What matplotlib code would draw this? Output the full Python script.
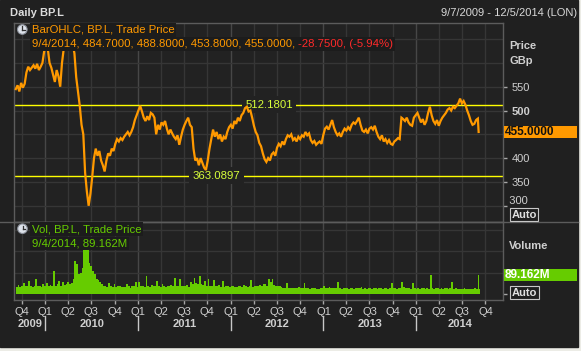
import numpy as np
import pandas as pd
import matplotlib
matplotlib.use('Agg')
import matplotlib.pyplot as plt
import matplotlib.dates as mdates
import matplotlib.transforms as mtransforms
from matplotlib.patches import Rectangle, Circle
from matplotlib.lines import Line2D

plt.rcParams['font.family'] = ['Liberation Sans', 'DejaVu Sans']

# weekly closes (GBp), first week starting 7 Sep 2009
close = [545, 553, 540, 558, 548, 556, 580, 592, 585, 590,
         595, 588, 598, 585, 592, 600, 625, 640, 630, 600,
         590, 575, 560, 585, 572, 550, 600, 630, 645, 650,
         655, 648, 640, 620, 570, 540, 510, 470, 450, 370,
         330, 300, 325, 360, 400, 420, 405, 415, 395, 385,
         372, 395, 410, 405, 420, 415, 430, 440, 435, 442,
         438, 445, 450, 455, 448, 455, 465, 480, 490, 500,
         510, 498, 485, 478, 488, 480, 495, 492, 485, 450,
         470, 460, 475, 470, 478, 462, 450, 460, 452, 445,
         440, 448, 428, 445, 460, 470, 478, 485, 470, 465,
         420, 395, 400, 385, 400, 390, 380, 375, 395, 420,
         440, 460, 445, 455, 440, 450, 435, 445, 440, 455,
         465, 470, 462, 478, 472, 485, 478, 490, 495, 505,
         508, 498, 500, 485, 468, 455, 448, 432, 425, 410,
         398, 392, 400, 395, 408, 412, 405, 422, 430, 425,
         435, 428, 440, 448, 445, 450, 438, 442, 435, 445,
         440, 448, 445, 455, 448, 452, 438, 432, 436, 428,
         432, 435, 430, 448, 462, 466, 460, 470, 480, 465,
         455, 448, 452, 445, 455, 462, 458, 465, 460, 470,
         475, 472, 478, 485, 470, 458, 455, 460, 452, 462,
         465, 460, 468, 455, 445, 440, 448, 435, 440, 432,
         438, 430, 428, 435, 438, 442, 440, 485, 482, 478,
         485, 475, 470, 468, 485, 490, 495, 485, 475, 482,
         470, 478, 495, 508, 490, 478, 472, 480, 468, 478,
         485, 490, 495, 502, 505, 500, 508, 505, 510, 515,
         525, 515, 520, 512, 500, 490, 478, 470, 472, 480, 483]

# weekly volume (millions)
volume = [35, 42, 33, 38, 50, 36, 40, 62, 38, 35,
          40, 70, 36, 38, 34, 45, 38, 52, 40, 42,
          40, 110, 38, 45, 60, 40, 55, 42, 48, 58,
          45, 50, 70, 155, 140, 95, 100, 120, 230, 250,
          220, 145, 130, 110, 95, 70, 65, 55, 45, 40,
          38, 35, 50, 36, 34, 48, 33, 36, 40, 32,
          35, 34, 45, 38, 30, 36, 40, 55, 34, 55,
          36, 40, 35, 85, 38, 34, 42, 36, 40, 62,
          38, 35, 45, 36, 34, 40, 38, 42, 36, 75,
          38, 40, 72, 36, 40, 38, 42, 34, 55, 45,
          75, 50, 45, 85, 48, 42, 60, 40, 70, 38,
          40, 65, 36, 38, 42, 35, 60, 34, 36, 40,
          33, 36, 40, 35, 32, 38, 36, 34, 42, 36,
          34, 38, 65, 35, 40, 36, 38, 42, 36, 45,
          48, 40, 72, 55, 70, 42, 38, 36, 40, 34,
          30, 28, 52, 30, 27, 26, 30, 29, 27, 32,
          26, 29, 50, 30, 27, 25, 28, 26, 29, 25,
          24, 27, 26, 40, 30, 28, 32, 27, 29, 26,
          28, 58, 27, 24, 29, 26, 28, 25, 30, 27,
          24, 29, 26, 28, 32, 25, 27, 24, 29, 26,
          24, 26, 28, 25, 30, 27, 24, 29, 26, 25,
          27, 52, 26, 28, 24, 29, 27, 56, 34, 28,
          26, 29, 24, 54, 27, 25, 28, 24, 26, 29,
          24, 27, 25, 90, 28, 24, 26, 29, 25, 27,
          24, 26, 28, 25, 27, 56, 24, 26, 23, 25,
          24, 22, 26, 24, 23, 25, 22, 24, 26, 23, 25]

last_day = '2014-09-04'
last_close = 455.0
last_vol = 89.162
hi_line = 512.1801
lo_line = 363.0897
price_ticks = [350, 400, 500, 550]
price_grid = [300, 350, 400, 450, 500, 550, 600, 650]
vol_grid = [100, 200, 300]
years = [2009, 2010, 2011, 2012, 2013, 2014]

weeks = pd.date_range('2009-09-07', periods=len(close), freq='7D')
t_week = mdates.date2num(weeks.to_pydatetime())
t_last = mdates.date2num(pd.Timestamp(last_day).to_pydatetime())
t_all = np.append(t_week, t_last)
price = close + [last_close]

quarters = pd.date_range('2009-10-01', '2014-10-01', freq='QS')
q_labels = ['Q%d' % ((d.month - 1) // 3 + 1) for d in quarters]
t_q = mdates.date2num(quarters.to_pydatetime())

x0 = mdates.date2num(pd.Timestamp('2009-08-31').to_pydatetime())
x1 = mdates.date2num(pd.Timestamp('2014-12-09').to_pydatetime())

BG = '#222222'
GRID = '#363636'
GRID_Y = '#474747'
FRAME = '#5c5c5c'
TXT = '#cfcfcf'
ORANGE = '#ff9900'
GREEN = '#66cc00'

W, H = 581, 351
fig = plt.figure(figsize=(W / 100, H / 100), dpi=100, facecolor='#ecece6')
fig.patches.append(Rectangle((0, 4 / H), 578 / W, 347 / H, transform=fig.transFigure,
                             color='#202020', zorder=-5))

axp = fig.add_axes([14 / W, 1 - 222 / H, 489 / W, 199 / H], facecolor=BG)
axv = fig.add_axes([14 / W, 1 - 300 / H, 489 / W, 78 / H], facecolor=BG, sharex=axp)

for ax in (axp, axv):
    for s in ax.spines.values():
        s.set_color(FRAME)
        s.set_linewidth(1)
    for t in t_q:
        d = mdates.num2date(t)
        ax.axvline(t, color=GRID_Y if d.month == 1 else GRID, lw=1, zorder=0)

# price panel
axp.set_xlim(x0, x1)
axp.set_ylim(265.9, 683.8)
for g in price_grid:
    axp.axhline(g, color=GRID, lw=1, zorder=0)
axp.plot(t_all, price, color=ORANGE, lw=1.6, solid_joinstyle='miter', zorder=3)
axp.axhline(hi_line, color='#ffff00', lw=1, zorder=2)
axp.axhline(lo_line, color='#ffff00', lw=1, zorder=2)
bt = mtransforms.blended_transform_factory(axp.transAxes, axp.transData)
for val, xf in [(hi_line, 0.5215), (lo_line, 0.4145)]:
    axp.text(xf, val, '%.4f' % val, transform=bt, ha='center', va='center',
             color='#d8ff3a', fontsize=8.2, zorder=2.5,
             bbox=dict(boxstyle='square,pad=0.3', fc=BG, ec='none'))
axp.yaxis.tick_right()
axp.set_yticks([300] + price_ticks)
axp.set_yticklabels([''] + [str(v) for v in price_ticks])
for lab in axp.get_yticklabels():
    if lab.get_text() == '500':
        lab.set_fontweight('bold')
axp.tick_params(axis='y', length=3, width=1, color='#a8a8a8', labelcolor=TXT,
                labelsize=8, pad=3)
axp.tick_params(axis='x', length=0, labelbottom=False)
axp.text(1.0, 300, '  300', transform=bt, ha='left', va='bottom', color=TXT,
         fontsize=8)

# volume panel
axv.set_ylim(-28, 338)
for g in vol_grid:
    axv.axhline(g, color=GRID, lw=1, zorder=0)
axv.bar(t_week, volume, width=7, align='edge', color=GREEN, lw=0, zorder=3)
axv.bar([t_last], [last_vol], width=1.6, color=GREEN, lw=0, zorder=3)
axv.yaxis.tick_right()
axv.set_yticks([0])
axv.set_yticklabels([''])
axv.tick_params(axis='y', length=3, width=1, color='#a8a8a8')
axv.set_xticks(t_q)
axv.set_xticklabels(q_labels)
axv.tick_params(axis='x', length=3, width=1, color='#a8a8a8', labelcolor=TXT,
                labelsize=8, pad=2)

# year labels and separators
yb = mtransforms.blended_transform_factory(axv.transData, fig.transFigure)
for y in years:
    a = max(x0, mdates.date2num(pd.Timestamp('%d-01-01' % y).to_pydatetime()))
    b = min(x1, mdates.date2num(pd.Timestamp('%d-01-01' % (y + 1)).to_pydatetime()))
    fig.text((a + b) / 2, 1 - 324 / H, str(y), transform=yb, ha='center', va='center',
             color=TXT, fontsize=8, fontweight='bold')
    if y > 2009:
        fig.add_artist(Line2D([a, a], [1 - 316 / H, 1 - 330 / H], transform=yb,
                              color='#c8c8c8', lw=1))

# overlay in pixel coordinates
ov = fig.add_axes([0, 0, 1, 1], zorder=10)
ov.set_xlim(0, W)
ov.set_ylim(H, 0)
ov.axis('off')

ov.add_line(Line2D([0, 578], [222, 222], color=FRAME, lw=1))
ov.text(10, 12.5, 'Daily BP.L', color='#dcdcdc', fontsize=8, fontweight='bold',
        ha='left', va='center')
ov.text(577, 12.5, '9/7/2009 - 12/5/2014 (LON)', color='#d8d8d8', fontsize=8,
        ha='right', va='center')

def clock(cx, cy):
    ov.add_patch(Circle((cx, cy), 4.8, fc='#dde2ea', ec='#8a8f99', lw=0.8))
    ov.add_line(Line2D([cx, cx], [cy, cy - 3.2], color='#303030', lw=0.9))
    ov.add_line(Line2D([cx, cx + 2.6], [cy, cy], color='#303030', lw=0.9))

leg_box = dict(boxstyle='square,pad=0.15', fc='#1c1c1c', ec='none')
clock(22.3, 29.5)
ov.text(31.7, 30, 'BarOHLC, BP.L, Trade Price', color=ORANGE, fontsize=8.2,
        ha='left', va='center', bbox=leg_box)
t2 = ov.text(31.7, 44, '9/4/2014, 484.7000, 488.8000, 453.8000, 455.0000, ',
             color=ORANGE, fontsize=8.2, ha='left', va='center', bbox=leg_box)
ov.annotate('-28.7500, (-5.94%)', xy=(1, 0.5), xycoords=t2, ha='left', va='center',
            color='#ff2a2a', fontsize=8.2, bbox=leg_box)

clock(22.5, 228.7)
ov.text(31.7, 229, 'Vol, BP.L, Trade Price', color=GREEN, fontsize=8.2,
        ha='left', va='center', bbox=leg_box)
ov.text(31.7, 243.3, '9/4/2014, 89.162M', color=GREEN, fontsize=8.2,
        ha='left', va='center', bbox=leg_box)

ov.text(509, 46, 'Price', color=TXT, fontsize=8, fontweight='bold', va='center')
ov.text(509, 61, 'GBp', color=TXT, fontsize=8, fontweight='bold', va='center')
ov.text(509, 245.7, 'Volume', color=TXT, fontsize=8, fontweight='bold', va='center')

auto_box = dict(boxstyle='square,pad=0.12', fc='none', ec='#c8c8c8', lw=0.8)
ov.text(524.3, 214.5, 'Auto', color='#e0e0e0', fontsize=8, fontweight='bold',
        ha='center', va='center', bbox=auto_box)
ov.text(524.5, 292.5, 'Auto', color='#e0e0e0', fontsize=8, fontweight='bold',
        ha='center', va='center', bbox=auto_box)

# last value badges, placed at the data values
pb = mtransforms.blended_transform_factory(ov.transData, axp.transData)
ov.add_patch(Rectangle((503.5, last_close - 12.9), 73.5, 25.8, transform=pb,
                       fc=ORANGE, ec='none'))
ov.text(505, last_close, '%.4f' % last_close, transform=pb, color='#111111',
        fontsize=8.5, fontweight='bold', ha='left', va='center')
vb = mtransforms.blended_transform_factory(ov.transData, axv.transData)
ov.add_patch(Rectangle((503.5, last_vol - 29.8), 73.5, 59.6, transform=vb,
                       fc=GREEN, ec='none'))
ov.text(505, last_vol, '%.3fM' % last_vol, transform=vb, color='white',
        fontsize=8.5, fontweight='bold', ha='left', va='center')

fig.savefig('out.png', dpi=100, facecolor=fig.get_facecolor())
